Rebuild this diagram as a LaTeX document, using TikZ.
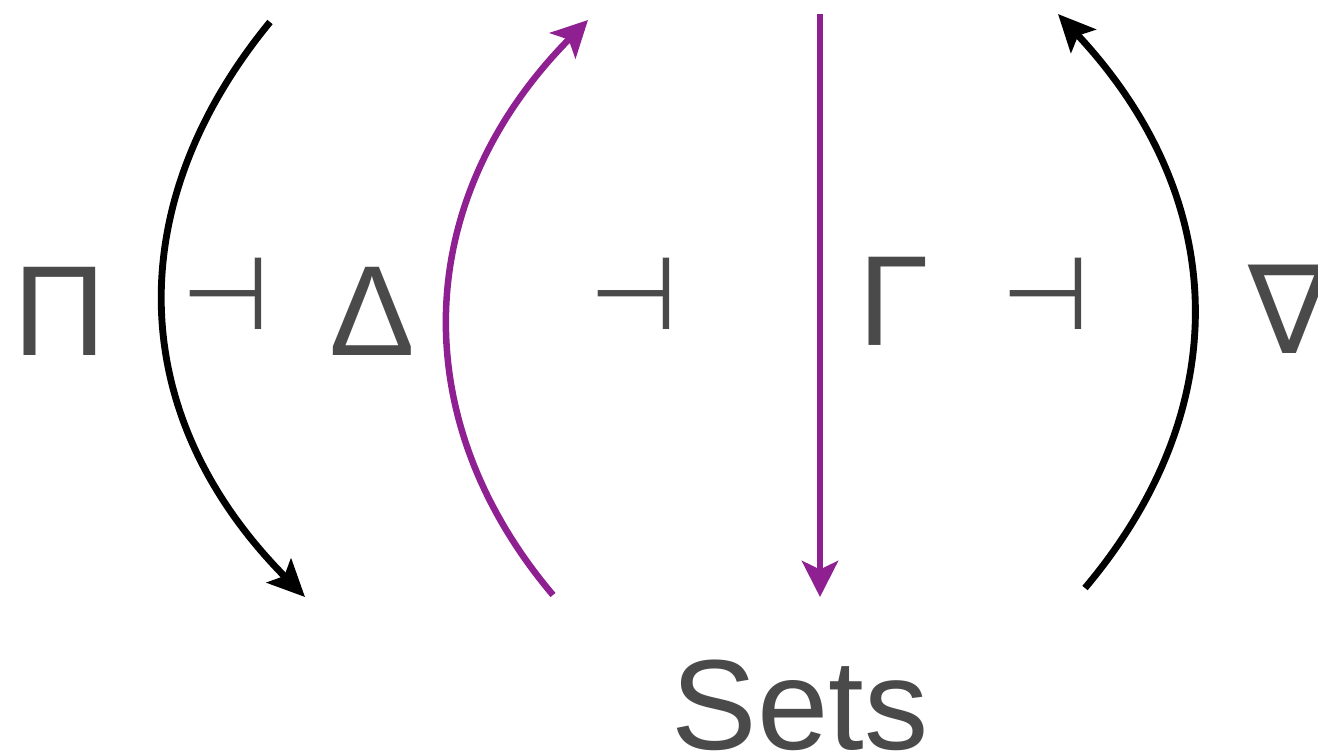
\documentclass[tikz,border=0pt]{standalone}
\usepackage{fontspec}
\setmainfont{Liberation Sans}
\newfontfamily\symfam{DejaVu Sans}
\usetikzlibrary{arrows.meta}
\definecolor{symgray}{RGB}{74,74,74}
\definecolor{adjpurple}{RGB}{142,32,145}
\tikzset{
  bigsym/.style={text=symgray, inner sep=0pt, anchor=base, font=\fontsize{73}{80}\selectfont},
  nablasym/.style={text=symgray, inner sep=0pt, anchor=base, font=\symfam\fontsize{70}{80}\selectfont},
  turnstile/.style={text=symgray, inner sep=0pt, font=\symfam\fontsize{58}{64}\selectfont},
  adjblack/.style={-{Stealth[length=0.74cm, width=0.68cm, inset=0.15cm]}, line width=3.9pt, black},
  adjpurp/.style={-{Stealth[length=0.72cm, width=0.72cm, inset=0.17cm]}, line width=3.7pt, adjpurple}
}

\begin{document}
\begin{tikzpicture}[x=0.02cm, y=-0.02cm]
\useasboundingbox (0,0) rectangle (1318,755);
\node[bigsym] (pi) at (60,355) {Π};
\node[turnstile] (adjA) at (226,294) {⊣};
\node[bigsym] (delta) at (372,355) {Δ};
\node[turnstile] (adjB) at (634,294) {⊣};
\node[bigsym] (gamma) at (894,345) {Γ};
\node[turnstile] (adjC) at (1046,294) {⊣};
\node[nablasym] (nabla) at (1290,353) {∇};
\node[bigsym] (sets) at (800,749) {Sets};
\coordinate (piTop) at (270,22);
\coordinate (piBot) at (305,597);
\coordinate (deltaBot) at (553,595);
\coordinate (deltaTop) at (588,20);
\coordinate (gammaTop) at (820,14);
\coordinate (gammaBot) at (820,597);
\coordinate (nablaBot) at (1085,588);
\coordinate (nablaTop) at (1058,14);
\draw[adjblack] (piTop) .. controls (120,205) and (125,415) .. (piBot);
\draw[adjpurp] (deltaBot) .. controls (405,420) and (410,200) .. (deltaTop);
\draw[adjpurp] (gammaTop) -- (gammaBot);
\draw[adjblack] (nablaBot) .. controls (1235,410) and (1232,200) .. (nablaTop);
\end{tikzpicture}
\end{document}
